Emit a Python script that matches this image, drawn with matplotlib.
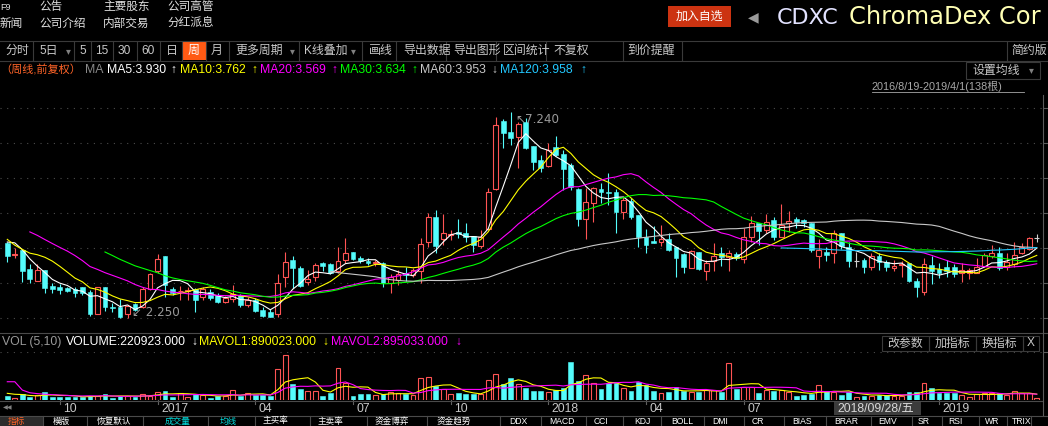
import numpy as np
import pandas as pd
import matplotlib
matplotlib.use("Agg")
import matplotlib.pyplot as plt
from matplotlib.lines import Line2D
from matplotlib.patches import Rectangle
from matplotlib.transforms import blended_transform_factory

plt.rcParams["font.family"] = ["Liberation Sans", "Noto Sans CJK SC", "DejaVu Sans"]

W, H = 1048, 426

# weekly bars 2016/8/19 - 2019/4/1 (138 bars)
opens = [
    4.08, 3.78, 3.90, 3.44, 3.16, 3.42, 3.03, 3.01, 2.97, 2.96,
    3.00, 2.89, 2.35, 3.00, 2.53, 2.52, 2.35, 2.59, 2.53, 2.95,
    3.39, 3.75, 2.95, 2.90, 2.92, 2.95, 2.76, 2.89, 2.81, 2.65,
    2.71, 2.81, 2.57, 2.69, 2.45, 2.39, 2.35, 3.24, 3.66, 3.47,
    3.13, 3.24, 3.59, 3.56, 3.38, 3.66, 3.84, 3.70, 3.64, 3.58,
    3.58, 3.11, 3.17, 3.35, 3.30, 3.38, 4.10, 4.69, 4.16, 4.25,
    4.34, 4.30, 4.24, 4.00, 4.40, 5.37, 7.02, 6.76, 6.64, 7.00,
    6.41, 6.07, 5.93, 6.38, 6.22, 5.95, 5.37, 4.64, 5.03, 5.37,
    5.31, 5.31, 4.82, 5.09, 4.74, 4.22, 4.12, 4.10, 4.16, 3.98,
    3.80, 3.47, 3.86, 3.40, 3.63, 3.82, 3.74, 3.80, 3.67, 4.21,
    4.54, 4.38, 4.62, 4.22, 4.54, 4.65, 4.62, 4.54, 3.76, 3.86,
    3.82, 4.30, 3.98, 3.64, 3.66, 3.50, 3.76, 3.62, 3.47, 3.53,
    3.59, 3.16, 2.89, 3.54, 3.43, 3.48, 3.48, 3.34, 3.34, 3.35,
    3.51, 3.75, 3.83, 3.50, 3.56, 3.83, 3.92, 4.18,
]
highs = [
    4.10, 3.95, 3.92, 3.56, 3.56, 3.42, 3.11, 3.08, 3.01, 3.01,
    3.01, 2.93, 3.00, 3.00, 2.61, 2.71, 2.57, 2.61, 3.00, 3.35,
    3.80, 3.75, 3.01, 3.03, 3.01, 2.97, 3.01, 2.95, 2.85, 2.79,
    3.05, 2.84, 2.76, 2.73, 2.52, 2.47, 3.32, 3.84, 3.75, 3.51,
    3.42, 3.58, 3.62, 3.58, 3.98, 4.18, 3.86, 3.75, 3.70, 3.66,
    3.62, 3.32, 3.42, 3.50, 3.46, 4.18, 4.80, 4.87, 4.77, 4.38,
    4.66, 4.54, 4.24, 4.38, 5.39, 7.10, 7.06, 7.24, 7.00, 7.08,
    6.41, 6.19, 6.48, 6.65, 6.31, 5.99, 5.39, 5.39, 5.43, 5.51,
    5.75, 5.37, 5.19, 5.15, 4.74, 4.40, 4.48, 4.50, 4.30, 3.98,
    3.83, 3.90, 3.86, 3.66, 4.06, 3.98, 3.90, 3.86, 4.42, 4.72,
    4.56, 4.77, 4.70, 5.01, 4.84, 4.70, 4.66, 4.54, 4.16, 3.98,
    4.38, 4.32, 4.10, 3.86, 3.70, 3.82, 3.82, 3.66, 3.66, 3.64,
    3.59, 3.22, 3.70, 3.75, 3.59, 3.66, 3.56, 3.59, 3.46, 3.70,
    3.83, 4.02, 3.98, 3.82, 4.10, 4.06, 4.22, 4.29,
]
lows = [
    3.62, 3.71, 3.13, 3.11, 3.16, 2.87, 2.85, 2.84, 2.89, 2.76,
    2.81, 2.31, 2.35, 2.43, 2.41, 2.26, 2.25, 2.43, 2.49, 2.93,
    3.35, 2.77, 2.81, 2.69, 2.69, 2.39, 2.68, 2.69, 2.61, 2.61,
    2.65, 2.52, 2.53, 2.39, 2.28, 2.27, 2.27, 3.01, 2.97, 3.00,
    3.05, 3.16, 3.38, 3.32, 3.34, 3.59, 3.66, 3.58, 3.54, 3.51,
    3.01, 2.85, 3.05, 3.16, 3.25, 3.11, 3.98, 3.83, 4.02, 4.14,
    4.18, 4.10, 3.86, 3.95, 4.38, 5.35, 6.36, 6.44, 5.87, 6.33,
    5.83, 5.79, 5.90, 6.17, 5.35, 5.35, 4.48, 4.16, 4.58, 5.03,
    4.99, 4.32, 4.64, 4.64, 3.98, 3.83, 4.06, 3.99, 3.88, 3.24,
    3.34, 3.46, 3.42, 3.17, 3.40, 3.51, 3.38, 3.66, 3.58, 4.10,
    4.02, 4.32, 4.14, 4.21, 4.34, 4.42, 4.46, 3.86, 3.46, 3.64,
    3.59, 3.92, 3.50, 3.50, 3.34, 3.42, 3.42, 3.38, 3.38, 3.25,
    3.13, 2.77, 2.81, 3.08, 3.22, 3.25, 3.25, 3.13, 3.19, 3.35,
    3.50, 3.70, 3.42, 3.42, 3.50, 3.80, 3.90, 4.10,
]
closes = [
    3.76, 3.80, 3.38, 3.19, 3.42, 2.99, 2.96, 2.93, 2.91, 2.87,
    2.85, 2.35, 3.00, 2.53, 2.51, 2.27, 2.55, 2.45, 2.95, 3.31,
    3.67, 3.05, 2.85, 2.92, 2.94, 2.69, 2.95, 2.73, 2.64, 2.73,
    2.84, 2.57, 2.69, 2.43, 2.31, 2.28, 3.11, 3.60, 3.47, 3.03,
    3.19, 3.54, 3.52, 3.34, 3.63, 3.82, 3.67, 3.63, 3.58, 3.62,
    3.10, 3.24, 3.32, 3.30, 3.42, 4.04, 4.70, 3.99, 4.30, 4.29,
    4.29, 4.22, 4.02, 4.22, 5.31, 6.92, 6.72, 6.60, 6.94, 6.36,
    6.03, 5.89, 6.31, 6.19, 5.85, 5.43, 4.64, 5.07, 5.39, 5.31,
    5.27, 4.82, 5.11, 4.69, 4.22, 4.02, 4.08, 4.16, 3.90, 3.70,
    3.48, 3.88, 3.44, 3.59, 3.76, 3.72, 3.83, 3.70, 4.21, 4.56,
    4.37, 4.58, 4.21, 4.50, 4.61, 4.58, 4.54, 3.90, 3.90, 3.78,
    4.32, 4.00, 3.64, 3.64, 3.48, 3.75, 3.62, 3.48, 3.51, 3.56,
    3.16, 3.01, 3.56, 3.38, 3.35, 3.38, 3.32, 3.42, 3.42, 3.48,
    3.78, 3.83, 3.46, 3.62, 3.78, 3.96, 4.18, 4.18,
]
# thousand shares
volumes_k = [
    624, 334, 827, 479, 725, 1160, 479, 435, 479, 479,
    479, 580, 580, 870, 334, 580, 580, 479, 827, 624,
    1204, 1305, 479, 1059, 479, 870, 725, 247, 580, 580,
    1450, 580, 972, 725, 725, 624, 4452, 6525, 2320, 1552,
    1305, 1305, 580, 1059, 4597, 2422, 580, 870, 870, 725,
    870, 1117, 972, 870, 725, 3190, 3292, 2030, 1595, 870,
    943, 870, 914, 870, 2900, 3814, 2320, 3234, 2320, 1784,
    1305, 1305, 1117, 1407, 1697, 5554, 2755, 3625, 2422, 1595,
    2422, 2465, 1697, 1305, 2654, 2175, 1262, 1059, 1160, 1842,
    1305, 1204, 1160, 1450, 1450, 1160, 5322, 1595, 1885, 1842,
    1059, 1450, 1334, 1378, 1160, 609, 769, 870, 2175, 1305,
    1204, 725, 1204, 479, 624, 580, 725, 725, 624, 624,
    1204, 1117, 2422, 1697, 972, 972, 1059, 725, 479, 827,
    972, 972, 972, 725, 1349, 972, 972, 221,
]

# weeks before the visible window, they only feed the moving averages
pre_closes = [5.1, 5.0, 4.9, 4.8, 4.7, 5.0, 5.3, 5.2, 4.4, 4.1, 3.8, 3.6, 3.9, 4.2, 4.3, 4.3]
pre_volumes_k = [334, 12905, 4350, 2030, 2030, 1015, 1015, 1160, 1015]

ma_periods = [5, 10, 20, 30, 60, 120]
ma_colors = ["#ffffff", "#ffff00", "#ff00ff", "#00ff00", "#c8c8c8", "#22c8ff"]
ma_labels = ["MA5:3.930", "MA10:3.762", "MA20:3.569", "MA30:3.634", "MA60:3.953", "MA120:3.958"]
ma_arrows = ["↑", "↑", "↑", "↑", "↓", "↑"]

month_ticks = [7, 20, 33, 46, 59, 72, 85, 98, 124]
month_labels = ["10", "2017", "04", "07", "10", "2018", "04", "07", "2019"]

RED = "#ff5454"
CYAN = "#54fcfc"
GRIDC = "#4c4c4c"
LINEC = "#3a3a3a"
TXT = "#c8c8c8"

fig = plt.figure(figsize=(W / 100, H / 100), dpi=100, facecolor="black")


def axes_px(left, top, right, bottom):
    a = fig.add_axes([left / W, 1 - bottom / H, (right - left) / W, (bottom - top) / H])
    a.axis("off")
    return a


def text(x, y, s, color=TXT, size=8.6, ha="left", **kw):
    return fig.text(x / W, 1 - y / H, s, color=color, fontsize=size, ha=ha, va="center", **kw)


def seg(x0, y0, x1, y1, color=LINEC, lw=0.8, **kw):
    fig.add_artist(Line2D([x0 / W, x1 / W], [1 - y0 / H, 1 - y1 / H], color=color, lw=lw, **kw))


def box(x0, y0, x1, y1, face="none", edge=LINEC, lw=0.8):
    fig.add_artist(Rectangle((x0 / W, 1 - y1 / H), (x1 - x0) / W, (y1 - y0) / H,
                             facecolor=face, edgecolor=edge, lw=lw, transform=fig.transFigure))


o, hi, lo, c = (np.array(v) for v in (opens, highs, lows, closes))
vol = np.array(volumes_k)
idx = np.arange(len(c))
up = c > o
down = c < o
flat = c == o

# ---- price panel
ax = axes_px(0, 95, 1043, 330)
ax.set_xlim(-0.97, 137.83)
ax.set_ylim(1.967, 7.643)
for g in np.linspace(2.25, 7.32, 7):
    ax.axhline(g, color=GRIDC, lw=0.8, ls=(0, (1, 5)), zorder=0)

bw = 0.64
ax.vlines(idx[up], lo[up], hi[up], color=RED, lw=0.8, zorder=2)
ax.bar(idx[up], c[up] - o[up], bottom=o[up], width=bw, facecolor="black",
       edgecolor=RED, lw=0.8, zorder=3)
ax.vlines(idx[down], lo[down], hi[down], color=CYAN, lw=0.8, zorder=2)
ax.bar(idx[down], o[down] - c[down], bottom=c[down], width=bw, color=CYAN,
       edgecolor=CYAN, lw=0.4, zorder=3)
ax.vlines(idx[flat], lo[flat], hi[flat], color="#d0d0d0", lw=0.8, zorder=2)
ax.hlines(c[flat], idx[flat] - bw / 2, idx[flat] + bw / 2, color="#d0d0d0", lw=0.8, zorder=3)

full = pd.Series(pre_closes + closes)
n_pre = len(pre_closes)
for p, col in zip(ma_periods, ma_colors):
    ma = full.rolling(p).mean().iloc[n_pre:].to_numpy()
    ax.plot(idx, ma, color=col, lw=0.8, zorder=4)

ih = int(np.argmax(hi))
il = int(np.argmin(lo))
ax.text(ih + 0.55, hi[ih] - 0.18, "↖7.240", color="#9a9a9a", fontsize=8.6,
        va="center", ha="left", family=["DejaVu Sans"], zorder=5)
ax.text(il + 0.65, lo[il] + 0.15, "↙ 2.250", color="#9a9a9a", fontsize=8.6,
        va="center", ha="left", family=["DejaVu Sans"], zorder=5)

# ---- volume panel
vax = axes_px(0, 352, 1043, 400)
vax.set_xlim(-0.97, 137.83)
vax.set_ylim(0, 6960)
vax.axhline(6940, color=GRIDC, lw=0.8, ls=(0, (1, 5)))
vup = c >= o
vax.bar(idx[vup], vol[vup], width=bw, facecolor="black", edgecolor=RED, lw=0.8)
vax.bar(idx[~vup], vol[~vup], width=bw, color=CYAN, edgecolor=CYAN, lw=0.4)
vfull = pd.Series(pre_volumes_k + volumes_k)
nv = len(pre_volumes_k)
vax.plot(idx, vfull.rolling(5).mean().iloc[nv:].to_numpy(), color="#ffff00", lw=0.8)
vax.plot(idx, vfull.rolling(10).mean().iloc[nv:].to_numpy(), color="#ff00ff", lw=0.8)

# ---- date axis
tr = blended_transform_factory(vax.transData, fig.transFigure)
for t, lab in zip(month_ticks, month_labels):
    fig.text(t + 0.45, 1 - 409 / H, lab, transform=tr, color=TXT, fontsize=8.8,
             ha="left", va="center")
    fig.add_artist(Line2D([t, t], [1 - 400 / H, 1 - 404 / H], transform=tr, color="#606060", lw=0.8))
box(834, 402, 921, 415, face="#3c3c3c", edge="none")
text(837, 409, "2018/09/28/五", color="#d8d8d8", size=8.8)
text(3, 408, "◀◀", color="#808080", size=4.5, family=["DejaVu Sans"])

# ---- frame lines
seg(0, 40.5, W, 40.5)
seg(0, 61, W, 61)
seg(0, 333, W, 333, color="#4a4a4a")
seg(0, 400.5, 1043, 400.5, color="#4a4a4a")
seg(0, 415.5, W, 415.5, color="#4a4a4a")
seg(1042.5, 95, 1042.5, 415, color="#5a5a5a")
for g in [108.3, 143.3, 178.3, 213.3, 248.3, 283.3, 318.3, 352]:
    seg(1042.5, g, W, g, color="#5a5a5a")

# ---- header
for x, s in [(0, "F9"), (39, "公告"), (103, "主要股东"), (167, "公司高管")]:
    text(x, 7, s, color="#e0e0e0", size=8.4 if s != "F9" else 6.5)
for x, s in [(0, "新闻"), (39, "公司介绍"), (103, "内部交易"), (167, "分红派息")]:
    text(x, 24, s, color="#e0e0e0", size=8.4)
box(668, 6, 731, 27, face="#cc3311", edge="none")
text(699.5, 16.5, "加入自选", color="white", size=8.6, ha="center")
text(748, 17, "◀", color="#9a9a9a", size=10, family=["DejaVu Sans"])
text(777, 17.5, "CDXC", color="#e2e2ff", size=16, family=["DejaVu Sans"])
text(849, 17.5, "ChromaDex Cor", color="#ffffb4", size=17.4, family=["DejaVu Sans"])

# toolbar
for x in [33, 74, 91, 113, 137, 160, 182, 206, 229, 299, 362, 396, 446, 496, 546, 623, 682, 1007]:
    seg(x, 42, x, 60)
box(182, 42, 206, 60, face="#ff5a14", edge="none")
tools = [(5, "分时"), (39, "5日"), (79, "5"), (95, "15"), (118, "30"), (141, "60"), (166, "日"),
         (188, "周"), (211, "月"), (235, "更多周期"), (304, "K线叠加"), (369, "画线"),
         (403, "导出数据"), (453, "导出图形"), (503, "区间统计"), (553, "不复权"),
         (627, "到价提醒"), (1011, "简约版")]
for x, s in tools:
    text(x, 51, s, color="white" if s == "周" else TXT, size=8.6)
for x in [66, 290, 351]:
    text(x, 51, "▾", color="#808080", size=7, family=["DejaVu Sans"])

# MA legend row
text(0, 70, "（周线,前复权）", color="#ff6428", size=8.0)
text(85, 70, "MA", color="#8a8a8a", size=8.8)
for x, ax_x, s, a, col in zip([107, 180, 260, 340, 420, 500], [170, 251, 331, 411, 491, 580],
                              ma_labels, ma_arrows, ma_colors):
    text(x, 70, s, color=col, size=8.8)
    text(ax_x, 70, a, color=col, size=8.8)
box(966, 62, 1040, 79, edge="#3a3a3a")
text(972, 70.5, "设置均线", color=TXT, size=8.6)
text(1029, 70.5, "▾", color="#808080", size=7, family=["DejaVu Sans"])
text(872, 86, "2016/8/19-2019/4/1(138根)", color="#a8a8a8", size=7.8)
seg(872, 92, 1024, 92, color="#a8a8a8", lw=0.6)

# volume header
text(2, 342, "VOL (5,10)", color="#9a9a9a", size=8.8)
text(66, 342, "VOLUME:220923.000", color="white", size=8.8)
text(191, 342, "↓", color="white", size=8.8)
text(199, 342, "MAVOL1:890023.000", color="#ffff00", size=8.8)
text(322, 342, "↓", color="#ffff00", size=8.8)
text(331, 342, "MAVOL2:895033.000", color="#ff00ff", size=8.8)
text(455, 342, "↓", color="#ff00ff", size=8.8)
for x0, x1, s in [(882, 929, "改参数"), (929, 976, "加指标"), (976, 1023, "换指标"), (1023, 1039, "X")]:
    box(x0, 336, x1, 351)
    text((x0 + x1) / 2, 343.5, s, color=TXT, size=8.6, ha="center")

# bottom tabs
box(0, 416, 43, 426, face="#2c2c2c", edge="none")
tabs = [(8, "指标", "#ff6428"), (53, "模版", "white"), (97, "恢复默认", "white"),
        (165, "成交量", "#00e0e0"), (220, "均线", "#00e0e0"), (263, "主买率", "white"),
        (318, "主卖率", "white"), (375, "资金博弈", "white"), (437, "资金趋势", "white"),
        (509, "DDX", "white"), (549, "MACD", "white"), (594, "CCI", "white"),
        (634, "KDJ", "white"), (671, "BOLL", "white"), (712, "DMI", "white"),
        (752, "CR", "white"), (792, "BIAS", "white"), (834, "BRAR", "white"),
        (878, "EMV", "white"), (918, "SR", "white"), (948, "RSI", "white"),
        (985, "WR", "white"), (1012, "TRIX", "white")]
for x, s, col in tabs:
    text(x, 421, s, color=col, size=6.2)
for x in [43, 87, 143, 208, 255, 310, 367, 427, 500, 541, 586, 623, 661, 704, 744, 784,
          826, 871, 912, 942, 979, 1007, 1031]:
    seg(x, 416, x, 426, color="#4a4a4a")

fig.savefig("out.png", dpi=100, facecolor="black")
